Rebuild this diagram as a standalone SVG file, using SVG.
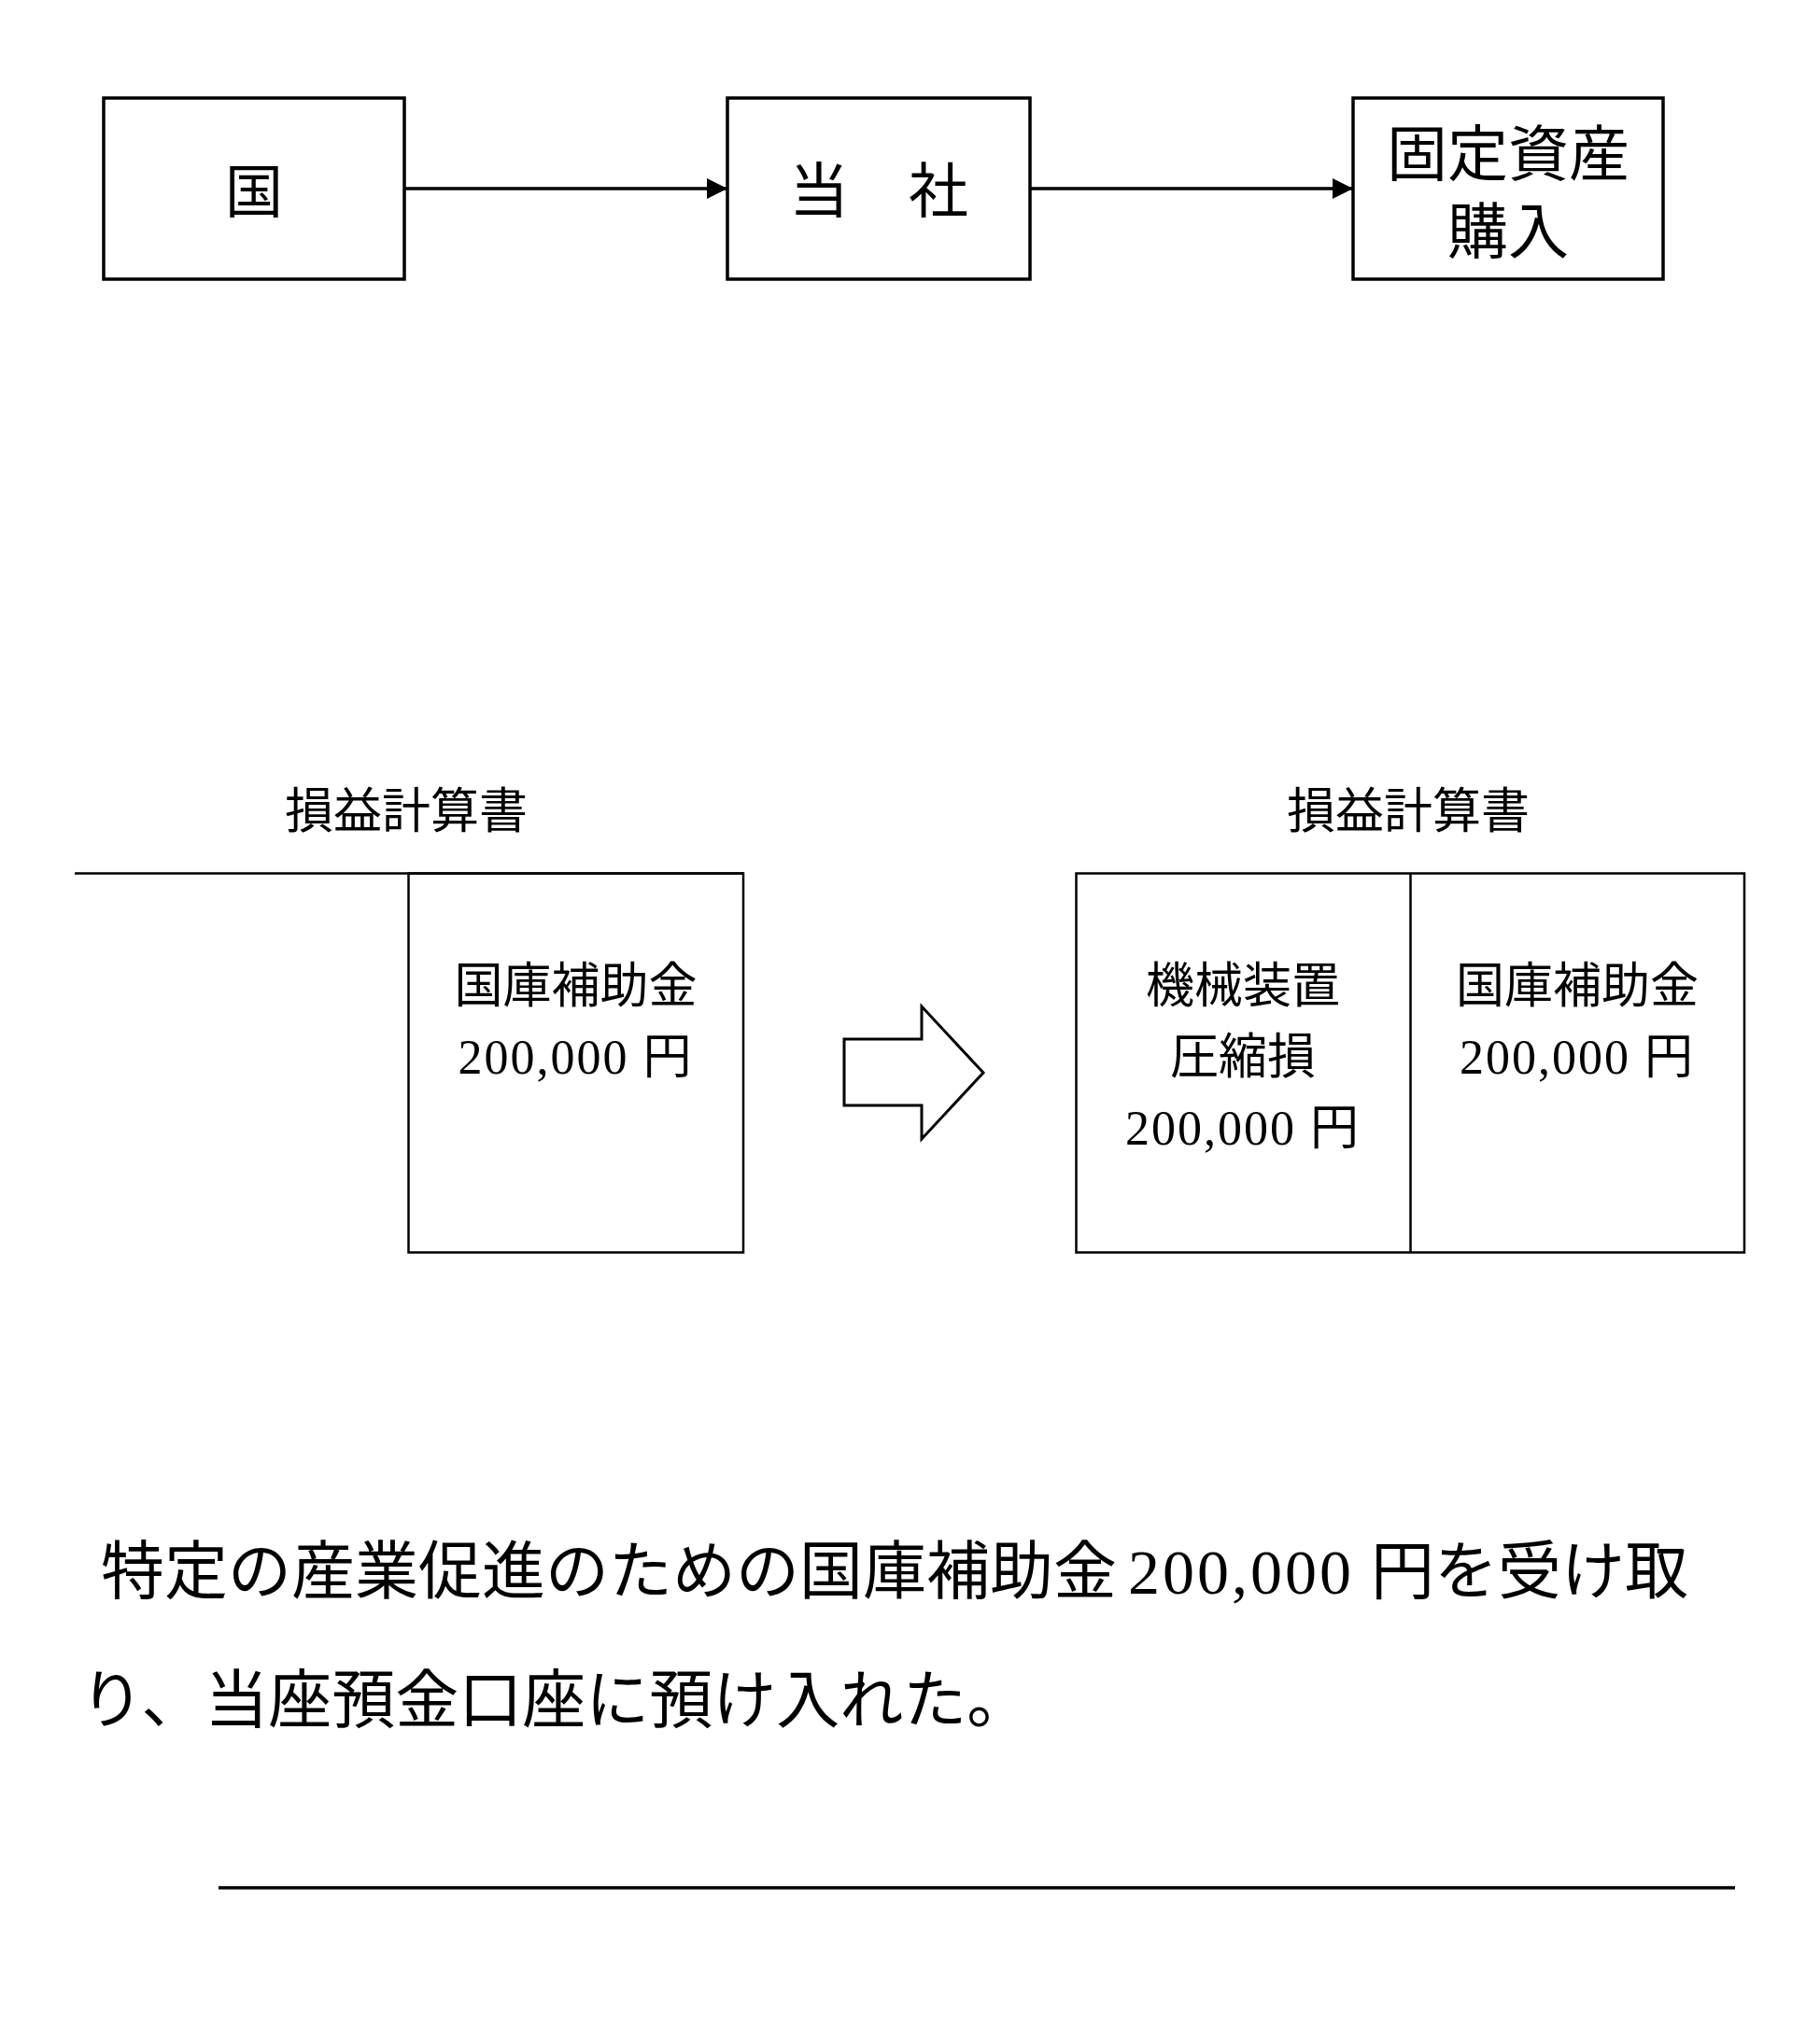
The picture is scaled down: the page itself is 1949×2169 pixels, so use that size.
<svg xmlns="http://www.w3.org/2000/svg" width="1949" height="2169" viewBox="0 0 1949 2169">
<style>
text{font-family:"Liberation Serif","Noto Sans CJK JP",serif;fill:#000;}
.box{fill:#fff;stroke:#000;stroke-width:3.5;}
.tbl{fill:none;stroke:#000;stroke-width:2.5;}
.conn{stroke:#000;stroke-width:3.5;fill:none;}
.big{font-size:64px;}
.mid{font-size:52px;}
.body{font-size:68px;}
.c{text-anchor:middle;}
.num{letter-spacing:2px;}
</style>
<defs>
<marker id="ah" markerUnits="userSpaceOnUse" markerWidth="22" markerHeight="22" refX="22" refY="11" orient="auto">
<path d="M0,0 L22,11 L0,22 z" fill="#000"/>
</marker>
</defs>
<rect width="1949" height="2169" fill="#fff"/>

<g id="node-kuni">
<rect class="box" x="111" y="105" width="322" height="194"/>
<text class="big c" x="272" y="228" style="font-size:62px">国</text>
</g>
<g id="node-tousha">
<rect class="box" x="779" y="105" width="324" height="194"/>
<text class="big c" x="941" y="227">当　社</text>
</g>
<g id="node-kotei">
<rect class="box" x="1449" y="105" width="332" height="194"/>
<text class="big c" x="1615" y="188" style="font-size:65px">固定資産</text>
<text class="big c" x="1615" y="271" style="font-size:65px">購入</text>
</g>

<g id="connectors">
<line class="conn" x1="433" y1="202" x2="779" y2="202" marker-end="url(#ah)"/>
<line class="conn" x1="1103" y1="202" x2="1449" y2="202" marker-end="url(#ah)"/>
</g>

<g id="pl-before">
<text class="mid c" x="435" y="887">損益計算書</text>
<line class="tbl" x1="80" y1="935.5" x2="796" y2="935.5"/>
<rect class="tbl" x="437.5" y="935.5" width="358.5" height="406"/>
<text class="mid c" x="616.5" y="1074">国庫補助金</text>
<text class="mid c num" x="616.5" y="1150">200,000 円</text>
</g>

<g id="big-arrow">
<polygon points="904,1113 987,1113 987,1078 1053,1149 987,1220 987,1184 904,1184" fill="#fff" stroke="#000" stroke-width="3"/>
</g>

<g id="pl-after">
<text class="mid c" x="1508" y="887">損益計算書</text>
<rect class="tbl" x="1152.5" y="935.5" width="715.5" height="406"/>
<line class="tbl" x1="1510.5" y1="935.5" x2="1510.5" y2="1341.5"/>
<text class="mid c" x="1331" y="1074">機械装置</text>
<text class="mid c" x="1331" y="1150">圧縮損</text>
<text class="mid c num" x="1331" y="1226">200,000 円</text>
<text class="mid c" x="1689" y="1074">国庫補助金</text>
<text class="mid c num" x="1689" y="1150">200,000 円</text>
</g>

<g id="question">
<text class="body" x="108" y="1707">特定の産業促進のための国庫補助金<tspan x="1208" style="letter-spacing:3px">200,000</tspan><tspan x="1468">円を受け取</tspan></text>
<text class="body" x="86" y="1845">り、当座預金口座に預け入れた。</text>
<line x1="234" y1="2022" x2="1858" y2="2022" stroke="#000" stroke-width="3.5"/>
</g>
</svg>
